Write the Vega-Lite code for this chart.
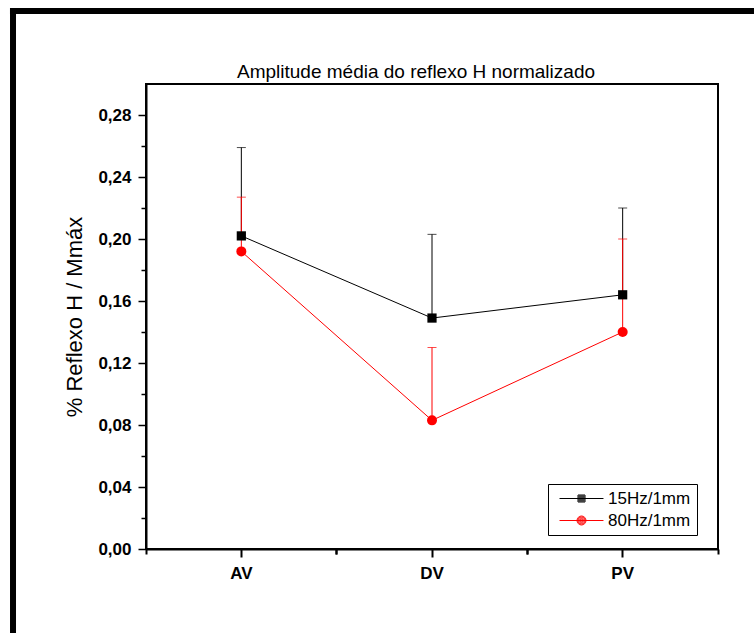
{
  "$schema": "https://vega.github.io/schema/vega-lite/v6.json",
  "width": 572,
  "height": 465,
  "autosize": {"type": "none"},
  "padding": {"left": 146, "top": 84, "right": 36, "bottom": 84},
  "background": "white",
  "title": {
    "text": "Amplitude média do reflexo H normalizado",
    "font": "Liberation Sans",
    "fontSize": 19,
    "fontWeight": "normal",
    "color": "black",
    "anchor": "middle",
    "frame": "group",
    "dx": -16,
    "dy": 89,
    "baseline": "alphabetic",
    "offset": 0
  },
  "data": {
    "values": [
      {"serie": "15Hz/1mm", "cond": "AV", "media": 0.202, "sup": 0.259},
      {"serie": "15Hz/1mm", "cond": "DV", "media": 0.149, "sup": 0.203},
      {"serie": "15Hz/1mm", "cond": "PV", "media": 0.164, "sup": 0.220},
      {"serie": "80Hz/1mm", "cond": "AV", "media": 0.192, "sup": 0.227},
      {"serie": "80Hz/1mm", "cond": "DV", "media": 0.083, "sup": 0.130},
      {"serie": "80Hz/1mm", "cond": "PV", "media": 0.140, "sup": 0.200}
    ]
  },
  "layer": [
    {
      "mark": {"type": "rule", "strokeWidth": 1},
      "encoding": {
        "x": {"field": "cond", "type": "nominal", "scale": {"type": "band", "domain": ["AV", "DV", "PV"], "paddingInner": 0, "paddingOuter": 0},
          "axis": {"orient": "bottom", "bandPosition": 0.5, "labelAngle": 0, "labelFont": "Liberation Sans", "labelFontSize": 17, "labelFontWeight": "bold", "labelColor": "black", "tickSize": 8, "tickWidth": 2, "tickColor": "black", "domainWidth": 2, "domainColor": "black", "labelPadding": 8, "title": null, "grid": false}},
        "y": {"field": "media", "type": "quantitative", "scale": {"domain": [0, 0.3], "nice": false, "zero": false},
          "axis": {"orient": "left", "values": [0, 0.04, 0.08, 0.12, 0.16, 0.2, 0.24, 0.28], "labelExpr": "replace(format(datum.value, '.2f'), '.', ',')", "labelFont": "Liberation Sans", "labelFontSize": 17, "labelFontWeight": "bold", "labelColor": "black", "tickSize": 8, "tickWidth": 1.5, "tickColor": "black", "domainWidth": 2, "domainColor": "black", "labelPadding": 7, "title": "% Reflexo H / Mmáx", "titleFont": "Liberation Sans", "titleFontSize": 22, "titleFontWeight": "normal", "titleColor": "black", "titlePadding": 11, "grid": false}},
        "y2": {"field": "sup"},
        "color": {"field": "serie", "type": "nominal", "scale": {"domain": ["80Hz/1mm", "15Hz/1mm"], "range": ["red", "black"]}, "legend": null}
      }
    },
    {
      "mark": {"type": "tick", "thickness": 1, "size": 9},
      "encoding": {
        "x": {"field": "cond", "type": "nominal", "scale": {"type": "band", "domain": ["AV", "DV", "PV"], "paddingInner": 0, "paddingOuter": 0},
          "axis": {"orient": "bottom", "bandPosition": 0, "labels": false, "domain": false, "tickSize": 5, "tickWidth": 2, "tickColor": "black", "title": null, "grid": false}},
        "y": {"field": "sup", "type": "quantitative", "scale": {"domain": [0, 0.3], "nice": false, "zero": false},
          "axis": {"orient": "left", "values": [0.02, 0.06, 0.1, 0.14, 0.18, 0.22, 0.26], "labels": false, "domain": false, "tickSize": 5, "tickWidth": 1.5, "tickColor": "black", "title": null, "grid": false}},
        "color": {"field": "serie", "type": "nominal", "scale": {"domain": ["80Hz/1mm", "15Hz/1mm"], "range": ["red", "black"]}, "legend": null}
      }
    },
    {
      "mark": {"type": "line", "strokeWidth": 1},
      "encoding": {
        "x": {"field": "cond", "type": "nominal", "scale": {"type": "band", "domain": ["AV", "DV", "PV"], "paddingInner": 0, "paddingOuter": 0},
          "axis": {"orient": "bottom", "bandPosition": 1, "labels": false, "domain": false, "tickSize": 5, "tickWidth": 2, "tickColor": "black", "title": null, "grid": false}},
        "y": {"field": "media", "type": "quantitative", "scale": {"domain": [0, 0.3], "nice": false, "zero": false}, "axis": null},
        "color": {"field": "serie", "type": "nominal", "scale": {"domain": ["80Hz/1mm", "15Hz/1mm"], "range": ["red", "black"]}, "legend": null}
      }
    },
    {
      "transform": [{"filter": "datum.serie === '15Hz/1mm'"}],
      "mark": {"type": "point", "shape": "square", "filled": true, "opacity": 1, "size": 85},
      "encoding": {
        "x": {"field": "cond", "type": "nominal", "scale": {"type": "band", "domain": ["AV", "DV", "PV"], "paddingInner": 0, "paddingOuter": 0}, "axis": null},
        "y": {"field": "media", "type": "quantitative", "scale": {"domain": [0, 0.3], "nice": false, "zero": false}, "axis": null},
        "color": {"field": "serie", "type": "nominal", "scale": {"domain": ["80Hz/1mm", "15Hz/1mm"], "range": ["red", "black"]}, "legend": null}
      }
    },
    {
      "transform": [{"filter": "datum.serie === '80Hz/1mm'"}],
      "mark": {"type": "point", "shape": "circle", "filled": true, "opacity": 1, "size": 100},
      "encoding": {
        "x": {"field": "cond", "type": "nominal", "scale": {"type": "band", "domain": ["AV", "DV", "PV"], "paddingInner": 0, "paddingOuter": 0}, "axis": null},
        "y": {"field": "media", "type": "quantitative", "scale": {"domain": [0, 0.3], "nice": false, "zero": false}, "axis": null},
        "color": {"field": "serie", "type": "nominal", "scale": {"domain": ["80Hz/1mm", "15Hz/1mm"], "range": ["red", "black"]}, "legend": null}
      }
    },
    {
      "mark": {"type": "point", "filled": true, "opacity": 0, "size": 196},
      "encoding": {
        "x": {"field": "cond", "type": "nominal", "scale": {"type": "band", "domain": ["AV", "DV", "PV"], "paddingInner": 0, "paddingOuter": 0}, "axis": null},
        "y": {"field": "media", "type": "quantitative", "scale": {"domain": [0, 0.3], "nice": false, "zero": false}, "axis": null},
        "fill": {"field": "serie", "type": "nominal", "scale": {"domain": ["15Hz/1mm", "80Hz/1mm"], "range": ["black", "red"]},
          "legend": {"title": null, "orient": "none", "legendX": 402, "legendY": 400, "strokeColor": "black", "fillColor": "white", "padding": 6, "rowPadding": 4, "symbolSize": 196, "symbolOffset": 19, "labelOffset": 18, "symbolStrokeWidth": 1, "symbolOpacity": 1, "labelFont": "Liberation Sans", "labelFontSize": 17, "labelColor": "black"}},
        "stroke": {"field": "serie", "type": "nominal", "scale": {"domain": ["15Hz/1mm", "80Hz/1mm"], "range": ["black", "red"]}},
        "shape": {"field": "serie", "type": "nominal", "scale": {"domain": ["15Hz/1mm", "80Hz/1mm"], "range": [
          "M-3.14,0H3.14M-0.5,-0.5H0.5V0.5H-0.5ZM-0.357,-0.357H0.357V0.357H-0.357ZM-0.214,-0.214H0.214V0.214H-0.214ZM-0.071,-0.071H0.071V0.071H-0.071Z",
          "M-3.14,0H3.14M-0.643,0A0.643,0.643,0,1,1,0.643,0A0.643,0.643,0,1,1,-0.643,0ZM-0.5,0A0.5,0.5,0,1,1,0.5,0A0.5,0.5,0,1,1,-0.5,0ZM-0.357,0A0.357,0.357,0,1,1,0.357,0A0.357,0.357,0,1,1,-0.357,0ZM-0.214,0A0.214,0.214,0,1,1,0.214,0A0.214,0.214,0,1,1,-0.214,0ZM-0.071,0A0.071,0.071,0,1,1,0.071,0A0.071,0.071,0,1,1,-0.071,0Z"
        ]}}
      }
    },
    {
      "data": {"values": [{}]},
      "mark": {"type": "rule", "strokeWidth": 6, "color": "black", "clip": false},
      "encoding": {
        "x": {"datum": -0.2378, "type": "quantitative", "scale": {"domain": [0, 1]}, "axis": null},
        "x2": {"datum": 1.08},
        "y": {"datum": 0.3471, "type": "quantitative", "scale": {"domain": [0, 0.3], "nice": false, "zero": false}, "axis": null}
      }
    },
    {
      "data": {"values": [{}]},
      "mark": {"type": "rule", "strokeWidth": 6, "color": "black", "clip": false},
      "encoding": {
        "x": {"datum": -0.2325, "type": "quantitative", "scale": {"domain": [0, 1]}, "axis": null},
        "y": {"datum": 0.3471, "type": "quantitative", "scale": {"domain": [0, 0.3], "nice": false, "zero": false}, "axis": null},
        "y2": {"datum": -0.06}
      }
    }
  ],
  "resolve": {"scale": {"x": "independent"}, "axis": {"x": "independent", "y": "independent"}},
  "config": {
    "font": "Liberation Sans",
    "view": {"stroke": "black", "strokeWidth": 2}
  }
}
